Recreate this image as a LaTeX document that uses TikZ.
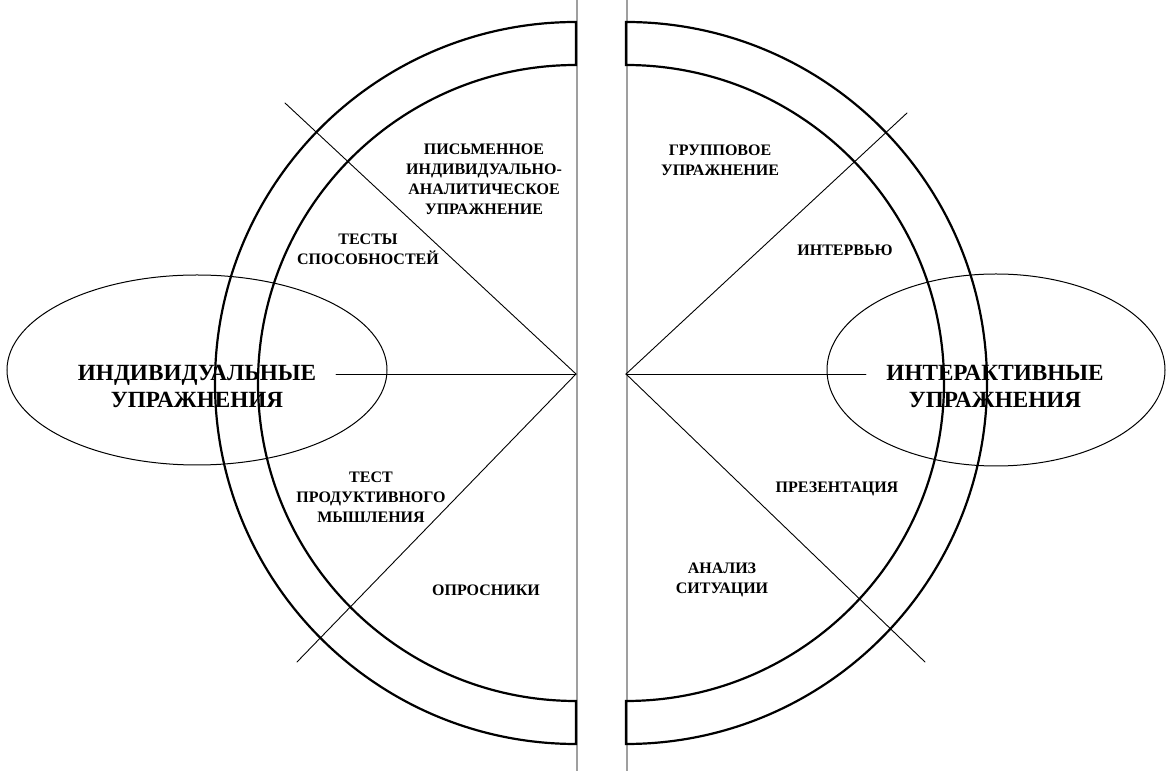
\documentclass[tikz,border=0pt]{standalone}
\usepackage{fontspec}
\setmainfont{Liberation Serif}

\begin{document}
\begin{tikzpicture}[x=0.5pt,y=0.5pt,line cap=round,
  ring/.style={line width=1.1pt,line join=miter},
  ray/.style={line width=0.45pt},
  divider/.style={gray!75,line width=0.9pt},
  oval/.style={line width=0.5pt},
  lbl/.style={font=\fontsize{8}{10}\selectfont\bfseries,align=center,inner sep=0pt},
  biglbl/.style={font=\fontsize{11.6}{13.5}\selectfont\bfseries,align=center,inner sep=0pt}]
\useasboundingbox (0,0) rectangle (1168,771);
% dividing lines
\draw[divider] (577,0) -- (577,771);
\draw[divider] (627,0) -- (627,771);
% half rings
\draw[ring] (576,27) arc[start angle=-90,end angle=-270,radius=361] -- (576,706)
  arc[start angle=90,end angle=270,radius=318] -- cycle;
\draw[ring] (626,27) arc[start angle=-90,end angle=90,radius=361] -- (626,706)
  arc[start angle=90,end angle=-90,radius=318] -- cycle;
% ovals
\draw[oval] (197,401) ellipse[x radius=190,y radius=95];
\draw[oval] (996,401) ellipse[x radius=169,y radius=96];
% rays
\coordinate (cl) at (576,397);
\coordinate (cr) at (626,397);
\coordinate (lup) at (285,668);
\coordinate (llo) at (297,109);
\coordinate (lmid) at (336,397);
\coordinate (rup) at (907,658);
\coordinate (rlo) at (925,109);
\coordinate (rmid) at (866,397);
\draw[ray] (cl) -- (lup);
\draw[ray] (cl) -- (llo);
\draw[ray] (cl) -- (lmid);
\draw[ray] (cr) -- (rup);
\draw[ray] (cr) -- (rlo);
\draw[ray] (cr) -- (rmid);
% labels
\node[biglbl] (indiv) at (197,385) {ИНДИВИДУАЛЬНЫЕ\\УПРАЖНЕНИЯ};
\node[biglbl] (inter) at (995,385) {ИНТЕРАКТИВНЫЕ\\УПРАЖНЕНИЯ};
\node[lbl] (pism) at (484,592) {ПИСЬМЕННОЕ\\ИНДИВИДУАЛЬНО-\\АНАЛИТИЧЕСКОЕ\\УПРАЖНЕНИЕ};
\node[lbl] (sposob) at (368,522) {ТЕСТЫ\\СПОСОБНОСТЕЙ};
\node[lbl] (produkt) at (371,274) {ТЕСТ\\ПРОДУКТИВНОГО\\МЫШЛЕНИЯ};
\node[lbl] (opros) at (486,181) {ОПРОСНИКИ};
\node[lbl] (grupp) at (720,611) {ГРУППОВОЕ\\УПРАЖНЕНИЕ};
\node[lbl] (interv) at (845,521) {ИНТЕРВЬЮ};
\node[lbl] (prez) at (837,282) {ПРЕЗЕНТАЦИЯ};
\node[lbl] (analiz) at (722,191) {АНАЛИЗ\\СИТУАЦИИ};
\end{tikzpicture}
\end{document}
